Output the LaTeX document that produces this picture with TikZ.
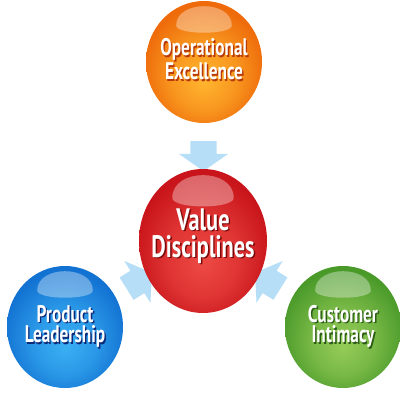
\documentclass[tikz,border=0pt]{standalone}
\usepackage{fontspec}
\setmainfont{PT Sans}[FakeStretch=0.72]
\usetikzlibrary{calc,shapes.geometric,shapes.arrows}

\definecolor{opexhi}{HTML}{FFB52E}
\definecolor{opexlo}{HTML}{EE6A0A}
\definecolor{opexsh}{HTML}{B83A08}
\definecolor{valuehi}{HTML}{EE4A44}
\definecolor{valuelo}{HTML}{C8141A}
\definecolor{valuesh}{HTML}{7A0808}
\definecolor{prodhi}{HTML}{3AB0F4}
\definecolor{prodlo}{HTML}{1272D2}
\definecolor{prodsh}{HTML}{0C2A78}
\definecolor{custhi}{HTML}{96CC58}
\definecolor{custlo}{HTML}{4A9A2A}
\definecolor{custsh}{HTML}{2C5C16}
\definecolor{flowblue}{HTML}{B6DEF7}

\colorlet{ballhi}{white}
\colorlet{balllo}{black}
\pgfdeclareradialshading[ballhi,balllo]{glossy}{\pgfpoint{0bp}{-8bp}}{color(0bp)=(ballhi); color(14bp)=(ballhi!60!balllo); color(27bp)=(balllo); color(50bp)=(balllo)}

\newcommand\gloss[2]{\fill[white, fill opacity=.35, shift={(path picture bounding box.center)}, x=#1pt, y=#2pt]
  (-.48,.6) .. controls (-.48,1.02) and (.48,1.02) .. (.48,.6) .. controls (.48,.44) and (-.48,.44) .. cycle;}
\newcommand\shtext[2]{\rlap{\kern1.4pt\raisebox{-1.4pt}{\color{#1}#2}}#2}

\tikzset{
  ball/.style={ellipse, inner sep=0pt, minimum width=116pt, minimum height=122pt,
    shade, shading=glossy, path picture={\gloss{58}{61}}},
  bigball/.style={minimum width=128pt, minimum height=144pt, path picture={\gloss{64}{72}}},
  balltint/.style 2 args={/utils/exec={\colorlet{ballhi}{#1}\colorlet{balllo}{#2}}},
  balltext/.style={text=white, align=center, inner sep=0pt, font=\bfseries\fontsize{24}{20.5}\selectfont},
  bigtext/.style={font=\bfseries\fontsize{31}{27}\selectfont},
  flow/.style={single arrow, fill=flowblue, draw=none, inner sep=0pt, text width=0pt,
    text height=13pt, text depth=13pt, minimum height=30pt,
    single arrow head extend=11.5pt, single arrow tip angle=110},
}

\begin{document}
\begin{tikzpicture}[x=1pt, y=-1pt]
  \useasboundingbox (0,0) rectangle (400,400);

  %% arrows into the middle
  \node[flow, rotate=-90] (toparr) at ($(204,62)!.5!(203,241)$) {};
  \node[flow, rotate=32] (leftarr) at ($(65,327)!.51!(203,241)$) {};
  \node[flow, rotate=148] (rightarr) at ($(343,327)!.51!(203,241)$) {};

  %% spheres
  \node[ball, balltint={opexhi}{opexlo}] (opex) at (204,62) {};
  \node[ball, bigball, balltint={valuehi}{valuelo}] (value) at (203,241) {};
  \node[ball, balltint={prodhi}{prodlo}] (prod) at (65,327) {};
  \node[ball, balltint={custhi}{custlo}] (cust) at (343,327) {};

  %% labels
  \node[balltext, yshift=2pt] (opextxt) at (opex) {\shtext{opexsh}{Operational}\\\shtext{opexsh}{Excellence}};
  \node[balltext, bigtext, yshift=4pt] (valuetxt) at (value) {\shtext{valuesh}{Value}\\\shtext{valuesh}{Disciplines}};
  \node[balltext] (prodtxt) at (prod) {\shtext{prodsh}{Product}\\\shtext{prodsh}{Leadership}};
  \node[balltext] (custtxt) at (cust) {\shtext{custsh}{Customer}\\\shtext{custsh}{Intimacy}};
\end{tikzpicture}
\end{document}
